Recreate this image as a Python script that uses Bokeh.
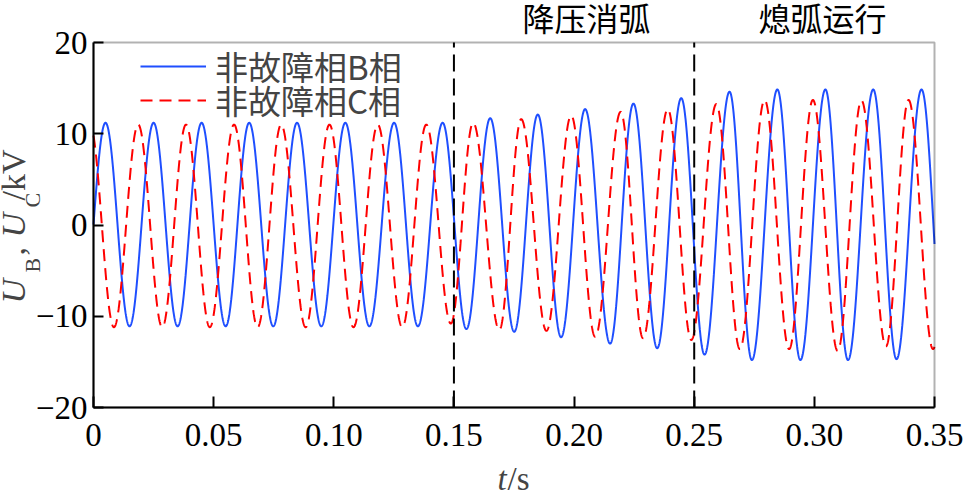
import numpy as np
from bokeh.plotting import figure
from bokeh.models import (Label, Legend, LegendItem, FixedTicker, Range1d, LinearAxis,
                          BoxAnnotation)
from bokeh.embed import file_html
from bokeh.resources import INLINE

# ---- data: successive extremes (time s, value kV) ----
b_ext_t = [-0.0050, 0.0050, 0.0150, 0.0250, 0.0350, 0.0450, 0.0550, 0.0648, 0.0748, 0.0847,
           0.0948, 0.1048, 0.1148, 0.1251, 0.1350, 0.1453, 0.1552, 0.1651, 0.1751, 0.1849,
           0.1946, 0.2046, 0.2150, 0.2247, 0.2346, 0.2446, 0.2543, 0.2647, 0.2740, 0.2846,
           0.2942, 0.3046, 0.3140, 0.3245, 0.3342, 0.3446, 0.3545]
b_ext_v = [-11.1, 11.2, -11.1, 11.2, -11.1, 11.2, -11.1, 11.2, -11.1, 11.2,
           -11.1, 11.2, -11.1, 11.2, -11.1, 11.2, -11.4, 11.7, -11.7, 12.1,
           -12.3, 12.7, -13.0, 13.3, -13.5, 13.9, -14.2, 14.6, -14.8, 14.85,
           -14.8, 14.85, -14.8, 14.85, -14.7, 14.85, -14.8]

c_ext_t = [-0.0015, 0.0085, 0.0186, 0.0286, 0.0385, 0.0484, 0.0585, 0.0683, 0.0781, 0.0883,
           0.0982, 0.1082, 0.1183, 0.1285, 0.1385, 0.1487, 0.1580, 0.1689, 0.1780, 0.1885,
           0.1988, 0.2088, 0.2194, 0.2287, 0.2390, 0.2488, 0.2592, 0.2690, 0.2793, 0.2895,
           0.2994, 0.3097, 0.3196, 0.3298, 0.3392, 0.3494, 0.3594]
c_ext_v = [11.0, -11.2, 11.0, -11.2, 11.0, -11.2, 11.0, -11.2, 11.0, -11.2,
           11.0, -11.2, 11.0, -11.2, 11.0, -10.8, 11.2, -11.5, 11.6, -11.6,
           12.0, -12.25, 12.4, -12.4, 12.7, -12.6, 13.25, -13.6, 13.7, -13.6,
           13.7, -13.8, 13.65, -13.3, 13.7, -13.6, 13.6]

x_ticks = [0, 0.05, 0.10, 0.15, 0.20, 0.25, 0.30, 0.35]
x_tick_labels = ["0", "0.05", "0.10", "0.15", "0.20", "0.25", "0.30", "0.35"]
y_ticks = [-20, -10, 0, 10, 20]
y_tick_labels = ["\u221220", "\u221210", "0", "10", "20"]

event_times = [0.15, 0.25]
legend_labels = ["非故障相B相", "非故障相C相"]
stage_labels = ["降压消弧", "熄弧运行"]

# ---- layout constants (pixels) ----
W, H = 964, 492
FL, FR, FT, FB = 93, 934, 42, 407          # where the plot box sits on the canvas
XMIN, XMAX = x_ticks[0], x_ticks[-1]
YMIN, YMAX = y_ticks[0], y_ticks[-1]
sx = (FR - FL) / (XMAX - XMIN)
sy = (FB - FT) / (YMAX - YMIN)
x_range = Range1d(XMIN - FL / sx, XMAX + (W - FR) / sx)
y_range = Range1d(YMIN - (H - FB) / sy, YMAX + FT / sy)


def waveform(ts, vs, t):
    ts = np.asarray(ts, dtype=float)
    vs = np.asarray(vs, dtype=float)
    i = np.clip(np.searchsorted(ts, t, side="right") - 1, 0, len(ts) - 2)
    s = (t - ts[i]) / (ts[i + 1] - ts[i])
    return vs[i] + (vs[i + 1] - vs[i]) * (1 - np.cos(np.pi * s)) / 2


t = np.linspace(XMIN, XMAX, 4201)
ub = waveform(b_ext_t, b_ext_v, t)
uc = waveform(c_ext_t, c_ext_v, t)

SERIF = "Liberation Serif"
CJK = "Noto Sans CJK SC"
BLUE = "#1f4fff"
RED = "#ff0000"

p = figure(width=W, height=H, min_border=0, x_range=x_range, y_range=y_range,
           x_axis_location=None, y_axis_location=None,
           output_backend="svg", toolbar_location=None)
p.xgrid.visible = False
p.ygrid.visible = False
p.outline_line_color = None
p.background_fill_color = "white"
p.border_fill_color = "white"

xaxis = LinearAxis(fixed_location=YMIN, bounds=(XMIN, XMAX), ticker=FixedTicker(ticks=x_ticks))
yaxis = LinearAxis(fixed_location=XMIN, bounds=(YMIN, YMAX), ticker=FixedTicker(ticks=y_ticks))
xaxis.major_label_overrides = {v: l for v, l in zip(x_ticks, x_tick_labels)}
yaxis.major_label_overrides = {v: l for v, l in zip(y_ticks, y_tick_labels)}
for ax in (xaxis, yaxis):
    ax.axis_line_width = 2
    ax.axis_line_color = "black"
    ax.major_tick_line_width = 2
    ax.major_tick_line_color = "black"
    ax.major_tick_out = 0
    ax.minor_tick_line_color = None
    ax.major_label_text_font = SERIF
    ax.major_label_text_font_size = "33px"
    ax.major_label_text_color = "black"
xaxis.major_tick_in = 11
yaxis.major_tick_in = 10
xaxis.major_label_standoff = 16
yaxis.major_label_standoff = 6
p.add_layout(xaxis, "below")
p.add_layout(yaxis, "left")

rb = p.line(t, ub, line_color=BLUE, line_width=2)
rc = p.line(t, uc, line_color=RED, line_width=2, line_dash="12 7")

p.segment(x0=event_times, x1=event_times, y0=[YMIN] * len(event_times),
          y1=[YMAX] * len(event_times), line_color="black", line_width=2,
          line_dash="17 7")

p.add_layout(BoxAnnotation(left=XMIN, right=XMAX, bottom=YMIN, top=YMAX,
                           fill_alpha=0, line_color="black", line_width=2))

for lab, r, row_y in zip(legend_labels, [rb, rc], [67, 101]):
    lg = Legend(items=[LegendItem(label=lab, renderers=[r])],
                location=(140, H - row_y - 23), orientation="vertical",
                border_line_color=None, background_fill_alpha=0,
                padding=0, margin=0, spacing=0,
                glyph_width=66, glyph_height=30, label_height=30,
                label_standoff=9, label_text_font=CJK,
                label_text_font_size="33px", label_text_baseline="middle")
    p.add_layout(lg)

for txt, xc in zip(stage_labels, [586, 822]):
    p.add_layout(Label(x=xc, y=H - 16, x_units="screen", y_units="screen", text=txt,
                       text_align="center", text_baseline="middle",
                       text_font=CJK, text_font_size="32px", text_color="black"))

# x axis label  t/s  (baseline placement compensated for renderer offset)
p.add_layout(Label(x=497, y=H - 478, x_units="screen", y_units="screen", text="t",
                   text_font=SERIF, text_font_style="italic", text_font_size="33px",
                   text_baseline="alphabetic", text_align="left"))
p.add_layout(Label(x=507, y=H - 478, x_units="screen", y_units="screen", text="/s",
                   text_font=SERIF, text_font_size="33px",
                   text_baseline="alphabetic", text_align="left"))

# y axis label  U_B, U_C/kV  (rotated)
pieces = [("U", "italic", "34px", 13, 303),
          ("B", "normal", "22px", 32, 272),
          (",", "normal", "34px", 13, 255),
          ("U", "italic", "34px", 13, 237),
          ("C", "normal", "22px", 32, 207),
          ("/kV", "normal", "34px", 13, 200)]
for txt, style, size, px_, py_ in pieces:
    p.add_layout(Label(x=px_, y=H - py_, x_units="screen", y_units="screen", text=txt,
                       angle=np.pi / 2, text_font=SERIF, text_font_style=style,
                       text_font_size=size, text_baseline="alphabetic", text_align="left"))

open("out.html", "w").write(file_html(p, INLINE))
